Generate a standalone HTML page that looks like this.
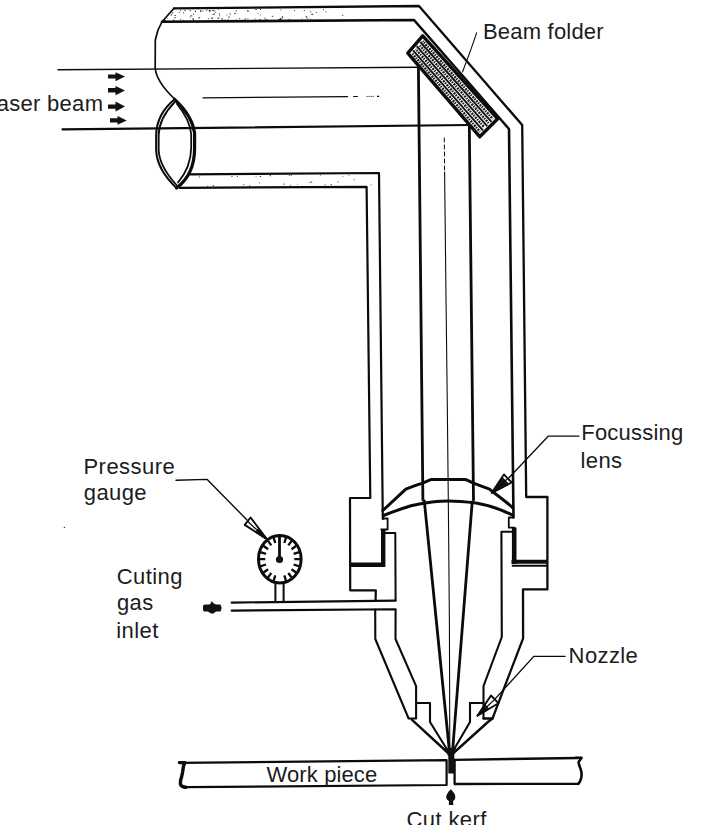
<!DOCTYPE html>
<html><head><meta charset="utf-8"><style>
html,body{margin:0;padding:0;background:#fff;}
svg{display:block;}
text{font-family:"Liberation Sans",sans-serif;font-size:22px;fill:#1c1c1c;letter-spacing:0.4px;}
</style></head><body>
<svg width="704" height="825" viewBox="0 0 704 825">
<g fill="#333" stroke="none"><rect x="174.5" y="15.0" width="1.3" height="1.0"/><rect x="235.8" y="19.6" width="1.0" height="1.0"/><rect x="205.8" y="10.2" width="1.0" height="0.8"/><rect x="164.0" y="20.5" width="1.0" height="1.2"/><rect x="190.5" y="15.3" width="1.6" height="1.0"/><rect x="257.7" y="12.7" width="0.8" height="1.0"/><rect x="227.3" y="19.7" width="0.8" height="0.8"/><rect x="342.3" y="14.8" width="1.0" height="1.2"/><rect x="194.8" y="10.8" width="1.3" height="1.2"/><rect x="167.4" y="18.3" width="0.8" height="0.8"/><rect x="183.0" y="12.4" width="1.0" height="1.0"/><rect x="280.4" y="9.5" width="1.0" height="0.8"/><rect x="247.3" y="18.1" width="1.0" height="0.8"/><rect x="219.1" y="15.3" width="0.8" height="1.0"/><rect x="258.9" y="19.2" width="1.6" height="1.0"/><rect x="221.2" y="18.2" width="1.0" height="1.0"/><rect x="172.9" y="19.6" width="1.3" height="1.0"/><rect x="209.0" y="10.4" width="1.6" height="1.2"/><rect x="211.2" y="17.8" width="1.6" height="1.0"/><rect x="229.6" y="13.4" width="1.0" height="1.2"/><rect x="184.5" y="10.4" width="1.0" height="0.8"/><rect x="224.6" y="19.5" width="1.0" height="1.0"/><rect x="309.8" y="18.8" width="1.0" height="0.8"/><rect x="208.8" y="10.0" width="1.6" height="1.2"/><rect x="247.4" y="10.7" width="1.6" height="0.8"/><rect x="280.0" y="18.6" width="1.6" height="1.0"/><rect x="282.1" y="17.2" width="0.8" height="1.2"/><rect x="170.7" y="14.4" width="1.0" height="1.2"/><rect x="211.8" y="17.5" width="1.0" height="1.0"/><rect x="164.3" y="20.2" width="1.6" height="1.2"/><rect x="305.7" y="16.2" width="1.3" height="1.2"/><rect x="260.0" y="8.8" width="1.0" height="1.2"/><rect x="171.7" y="12.4" width="1.6" height="1.0"/><rect x="227.5" y="19.2" width="1.0" height="1.0"/><rect x="278.2" y="19.0" width="1.6" height="1.2"/><rect x="182.4" y="19.9" width="1.3" height="0.8"/><rect x="213.7" y="13.5" width="1.3" height="1.0"/><rect x="288.5" y="19.3" width="1.6" height="1.2"/><rect x="202.4" y="11.0" width="0.8" height="0.8"/><rect x="180.0" y="18.9" width="0.8" height="1.0"/><rect x="310.2" y="11.4" width="1.0" height="1.0"/><rect x="226.4" y="14.7" width="0.8" height="0.8"/><rect x="170.9" y="14.3" width="0.8" height="0.8"/><rect x="189.9" y="16.7" width="1.0" height="0.8"/><rect x="192.4" y="18.4" width="1.6" height="1.0"/><rect x="221.6" y="18.9" width="1.6" height="0.8"/><rect x="279.7" y="19.0" width="1.3" height="1.0"/><rect x="265.9" y="19.5" width="1.0" height="1.2"/><rect x="260.0" y="14.6" width="0.8" height="0.8"/><rect x="264.5" y="19.2" width="1.0" height="1.0"/><rect x="255.4" y="9.0" width="1.3" height="1.0"/><rect x="303.8" y="10.1" width="1.0" height="1.0"/><rect x="271.8" y="15.8" width="1.3" height="1.0"/><rect x="215.3" y="11.8" width="0.8" height="1.0"/><rect x="294.0" y="10.0" width="0.8" height="1.2"/><rect x="218.9" y="13.3" width="1.0" height="1.2"/><rect x="198.5" y="17.2" width="1.6" height="1.2"/><rect x="235.7" y="10.2" width="1.0" height="1.2"/><rect x="247.2" y="10.2" width="0.8" height="1.2"/><rect x="228.1" y="16.6" width="1.6" height="1.0"/><rect x="184.6" y="9.7" width="1.0" height="0.8"/><rect x="212.6" y="14.0" width="1.0" height="1.0"/><rect x="234.2" y="12.9" width="1.6" height="1.0"/><rect x="266.1" y="19.5" width="1.6" height="1.2"/><rect x="180.3" y="9.8" width="0.8" height="1.2"/><rect x="217.9" y="9.4" width="0.8" height="0.8"/><rect x="211.9" y="10.0" width="1.6" height="0.8"/><rect x="207.8" y="18.3" width="1.3" height="0.8"/><rect x="244.5" y="18.5" width="1.3" height="1.2"/><rect x="311.4" y="13.8" width="1.6" height="1.2"/><rect x="201.5" y="10.4" width="0.8" height="0.8"/><rect x="174.3" y="17.1" width="1.3" height="1.0"/><rect x="199.9" y="11.0" width="1.0" height="1.2"/><rect x="164.2" y="20.3" width="1.0" height="0.8"/><rect x="193.2" y="13.6" width="0.8" height="1.2"/><rect x="239.2" y="18.1" width="1.0" height="1.0"/><rect x="254.8" y="18.5" width="0.8" height="1.0"/><rect x="192.9" y="19.0" width="1.0" height="1.2"/><rect x="315.8" y="11.8" width="1.0" height="1.0"/><rect x="264.4" y="17.6" width="1.3" height="0.8"/><rect x="213.5" y="10.2" width="1.3" height="1.2"/><rect x="217.6" y="17.7" width="1.6" height="1.2"/><rect x="323.1" y="9.0" width="0.8" height="1.2"/><rect x="306.6" y="17.7" width="1.3" height="0.8"/><rect x="189.7" y="10.2" width="1.3" height="1.0"/><rect x="301.7" y="18.7" width="1.0" height="0.8"/><rect x="325.6" y="11.1" width="0.8" height="1.2"/><rect x="281.8" y="16.3" width="1.3" height="1.2"/><rect x="178.8" y="11.9" width="1.3" height="0.8"/><rect x="200.1" y="10.1" width="1.0" height="0.8"/><rect x="279.8" y="18.2" width="1.6" height="0.8"/><rect x="206.8" y="9.5" width="0.8" height="0.8"/><rect x="237.1" y="176.0" width="0.8" height="1.0"/><rect x="207.1" y="185.8" width="1.0" height="0.8"/><rect x="283.4" y="183.6" width="1.3" height="1.0"/><rect x="255.7" y="175.9" width="0.8" height="0.8"/><rect x="231.3" y="176.2" width="1.3" height="0.8"/><rect x="212.7" y="185.2" width="1.3" height="1.0"/><rect x="259.8" y="176.0" width="1.3" height="1.0"/><rect x="249.2" y="185.3" width="1.0" height="1.0"/><rect x="337.5" y="181.5" width="1.0" height="1.0"/><rect x="290.3" y="184.9" width="0.8" height="1.0"/><rect x="310.9" y="181.5" width="1.3" height="1.0"/><rect x="319.8" y="174.8" width="1.0" height="0.8"/><rect x="297.3" y="183.8" width="0.8" height="0.8"/><rect x="348.5" y="174.8" width="0.8" height="1.0"/><rect x="288.9" y="175.2" width="1.0" height="0.8"/><rect x="269.7" y="175.2" width="1.3" height="1.0"/><rect x="259.3" y="182.4" width="0.8" height="1.0"/><rect x="243.3" y="184.2" width="1.0" height="1.0"/><rect x="330.6" y="184.2" width="1.3" height="1.0"/><rect x="370.8" y="184.4" width="0.8" height="0.8"/><rect x="290.7" y="175.1" width="1.0" height="0.8"/><rect x="353.7" y="179.2" width="1.0" height="1.0"/><rect x="309.5" y="181.9" width="1.0" height="1.0"/><rect x="198.8" y="176.5" width="1.0" height="1.0"/><rect x="324.7" y="184.4" width="1.0" height="1.0"/><rect x="342.5" y="176.0" width="0.8" height="0.8"/></g>
<g fill="none" stroke="#0b0b0b" stroke-linecap="round" stroke-linejoin="round">
<!-- top arm: outer top line + diagonal + right outer wall + nozzle right outer -->
<path d="M174,8.3 L419,6 L522.2,125 L526.2,497 L547.4,497 L547.4,589.4 L523,589.4 L523.1,638.3 L492.5,718.5 L483.5,718.5" stroke-width="2.3"/>
<!-- top arm inner line + diagonal + right inner wall -->
<path d="M162,21.8 L414,20 L509,129 L513.5,517.5" stroke-width="2.6"/>
<!-- left end cap curve -->
<path d="M174,8.3 L162,21.8 L158,30 L155.3,40 L155.2,68 C156,78 162,87 174.6,99" stroke-width="1.7"/>
<!-- horizontal arm bottom: inner (173) and outer (187) -->
<path d="M189.5,174.3 L379,173 L382.8,519" stroke-width="2.2"/>
<path d="M179.5,187.8 L366.6,186.8 L370.3,498 L350,498 L350.2,590.3 L375.8,590.3 L375.6,600.6" stroke-width="2.2"/>

<!-- laser beam lines -->
<path d="M58,69.8 L418.5,67.2" stroke-width="1.4"/>
<path d="M203,97.8 L347.5,96.6" stroke-width="1.3"/>
<path d="M353.2,96.5 L357.9,96.5 M377,96.4 L379.2,96.4" stroke-width="1.2" stroke-linecap="butt"/>
<path d="M366.6,96.4 L374,96.4" stroke-width="1" stroke-dasharray="1 1" stroke-linecap="butt"/>
<path d="M62.5,129.4 L469.3,125" stroke-width="2.2"/>

<!-- vertical beam lines above lens -->
<path d="M418.4,67 L422.9,500" stroke-width="2.8"/>
<path d="M469.3,125 L473.5,500" stroke-width="2.8"/>
<!-- converging beams below lens -->
<path d="M424.3,501 L449.5,752" stroke-width="2.8"/>
<path d="M472.2,502 L452.5,752" stroke-width="2.8"/>
<!-- centre line -->
<path d="M444.3,138 L444.6,172" stroke-width="1" stroke-dasharray="4 3"/>
<path d="M444.6,172 L446.1,305 L447.3,405 L448.3,500 L449.4,620 L449.8,752" stroke-width="1.1"/>

<!-- left lens (top arm) -->
<path d="M174.6,99.3 C164,108 156.5,120 156.2,135 L156.2,150 C156.5,163 165,177 176.5,188" stroke-width="2.1"/>
<path d="M174.8,102 C166,111 159,122 158.7,135 L158.7,150 C159,162 166.5,174 176.5,185" stroke-width="1.8"/>
<path d="M174.6,99.3 C184,108 192.5,118 194.6,133 L194.6,148 C194.6,165 190,178 176.5,188" stroke-width="3.2"/>
<path d="M177,104 C183.5,112 190,122 191.2,134 L191.2,148 C191,162 186,173 178,182.5" stroke-width="1.8"/>

<!-- beam folder -->
<g>
<path d="M422.7,35.9 L497.7,118.75 L479.7,136.7 L407.8,53.1 Z" fill="#fff" stroke-width="3.4"/>
<path d="M420.3,42.0 L491.5,121.8" stroke="#111" stroke-width="1.9" stroke-linecap="butt"/>
<path d="M416.7,46.2 L487.2,126.1" stroke="#111" stroke-width="1.9" stroke-linecap="butt"/>
<path d="M413.1,50.3 L482.9,130.4" stroke="#111" stroke-width="1.9" stroke-linecap="butt"/>
<path d="M422.7,41.0 L492.8,119.0" stroke="#1a1a1a" stroke-width="2.4" stroke-dasharray="2 0.9 1.4 1.1" stroke-dashoffset="1.0" stroke-linecap="butt"/>
<path d="M419.3,44.9 L488.6,123.1" stroke="#1a1a1a" stroke-width="2.4" stroke-dasharray="2 0.9 1.4 1.1" stroke-dashoffset="2.2" stroke-linecap="butt"/>
<path d="M415.7,49.1 L484.3,127.4" stroke="#1a1a1a" stroke-width="2.4" stroke-dasharray="2 0.9 1.4 1.1" stroke-dashoffset="1.5" stroke-linecap="butt"/>
<path d="M412.1,53.2 L480.0,131.7" stroke="#1a1a1a" stroke-width="2.4" stroke-dasharray="2 0.9 1.4 1.1" stroke-dashoffset="2.4" stroke-linecap="butt"/>
</g>
<!-- beam folder leader -->
<path d="M476.6,32.8 C472,47 467,60 462.5,71.9" stroke-width="1.1"/>

<!-- focusing lens -->
<path d="M382.8,510.5 L405.8,489.2 C412,486.6 417,485 422,483.4 L431.4,479.4 L465.5,479.4 L474,483.4 L489.5,489.2 L492.5,491.6 C499,496.5 506,501.5 512.8,507.8" stroke-width="3"/>
<path d="M383.6,515.5 C392,512 402,508.6 411,505.8 C418,504 424,503 432,502 C440,501.2 444,501 448.4,501 C456,501 466,501.8 476,503 C488,505 500,509 512.5,515" stroke-width="3"/>
<!-- focusing lens leader -->
<path d="M578.9,436.2 L548.2,436.2 L507.8,479" stroke-width="1.3"/>
<path d="M491.8,492.8 L503.9,474.4 L511.6,482.5 Z" fill="#fff" stroke-width="1.9"/><path d="M491.8,492.8 L502.1,477.2 L508.6,484.0 Z" fill="#111" stroke-width="1"/><path d="M491.8,492.8 L507.8,478.4" stroke-width="1.3"/>

<!-- left housing details -->
<path d="M350,564.7 L385,564.7" stroke-width="4.6" stroke-linecap="butt"/>
<path d="M383.2,529.5 L383.2,567" stroke-width="4.4" stroke-linecap="butt"/>
<path d="M381.2,529.5 L387.6,529.5 L387.6,518.5 L382.8,518.5" stroke-width="1.8"/>
<path d="M385,533 L395.3,533 L395.6,600.6" stroke-width="2"/>
<!-- pipe -->
<path d="M231.6,602.6 L395.6,600.6" stroke-width="2.1"/>
<path d="M231.6,610.6 L395.6,609.3 L395.5,639 L416.1,686.1 L416.1,718.5 L408.6,718.5 L375.3,639 L375.2,609.3" stroke-width="2.1"/>
<!-- nozzle bore left -->
<path d="M416.1,703 L430,703 L430,722 L448,751" stroke-width="2.1"/>
<path d="M411.8,719.7 L447,752" stroke-width="2.4"/>

<!-- right housing details -->
<path d="M511.5,561.8 L548,561.8" stroke-width="4" stroke-linecap="butt"/>
<path d="M511.8,565.8 L547.6,565.8" stroke-width="2" stroke-linecap="butt"/>
<path d="M514.2,527.5 L514.2,564" stroke-width="4.6" stroke-linecap="butt"/>
<path d="M513.2,517.5 L508.8,517.5 L508.8,527.7 L514.4,527.7" stroke-width="1.8"/>
<path d="M511.6,531.7 L501.4,531.7 L501.8,637 L483.5,686.1 L483.5,718.5" stroke-width="2.1"/>
<path d="M470,703 L483.5,703" stroke-width="2.1"/>
<path d="M470,703 L470,722 L453,751" stroke-width="2.1"/>
<path d="M492.5,718.5 L488.5,721.5 L453.5,753" stroke-width="2.4"/>
<!-- nozzle leader -->
<path d="M565,656.4 L533.8,656.4 L494.7,699.4" stroke-width="1.4"/>
<path d="M477.4,715.7 L491.0,695.5 L498.4,703.2 Z" fill="#fff" stroke-width="1.9"/><path d="M477.4,715.7 L484.9,704.6 L488.9,708.8 Z" fill="#111" stroke-width="1"/><path d="M477.4,715.7 L494.7,699.4" stroke-width="1.3"/>

<!-- work piece -->
<path d="M180,762.8 L446.6,760.2 L446.6,785 L186,787.2" stroke-width="2.2"/>
<path d="M454.6,759.8 L578,758" stroke-width="2.3"/>
<path d="M454.6,759.8 L454.6,784 L578.3,783.8" stroke-width="2.3"/>
<path d="M179.4,762.6 L185,762.6 L183.5,766 L182.6,772 L181.6,777 L180.6,780 L180.4,784 C181,786 183,787.2 186,787.2" stroke-width="3.4"/>
<path d="M576,757.8 L581.6,757.8 L578.6,762 C578.6,766 581.6,769 581.6,774 C581.6,779 580,782 578.3,783.8" stroke-width="2.6"/>
<!-- beam in kerf -->
<path d="M448.3,752 L454.3,752 L454.3,773.5 L448.3,773.5 Z" fill="#111" stroke="none"/>
<path d="M444.5,748 L456,748 L453.5,756 L448,756 Z" fill="#111" stroke="none"/>
<!-- cut kerf arrow -->
<path d="M450.8,789.3 C448,792 446,795 446.2,797.5 C446.5,800 448.5,800.6 449,801 L448.8,805 L453.4,805 L453,801 C454,800.5 455.3,799.5 455.3,797 C455.3,794 453.5,792 450.8,789.3 Z" fill="#111" stroke="none"/>

<!-- pressure gauge -->
<path d="M176,480.2 L207.2,479.4 L247,520" stroke-width="1.4"/>
<path d="M266.8,539.1 L250.6,517.5 L244.7,524.9 Z" fill="#fff" stroke-width="1.9"/><path d="M266.8,539.1 L258.7,528.3 L255.8,532.0 Z" fill="#111" stroke-width="1"/><path d="M266.8,539.1 L247.6,521.2" stroke-width="1.3"/>
<ellipse cx="279.8" cy="559.2" rx="21.3" ry="23.8" stroke-width="3"/>
<path d="M275.4,583 L275.4,601.5 M283.6,583 L283.6,601.5" stroke-width="2"/>
<path d="M279.5,559 L279.5,537" stroke-width="2.8"/>
<circle cx="279.5" cy="559.5" r="3.6" fill="#111" stroke="none"/>
<path d="M286.1,537.3 L284.3,543.0 M291.8,540.6 L288.3,545.4 M296.4,545.7 L291.5,549.2 M299.3,552.1 L293.6,553.9 M300.3,559.2 L294.3,559.2 M299.3,566.3 L293.6,564.5 M296.4,572.7 L291.5,569.2 M291.8,577.8 L288.3,573.0 M286.1,581.1 L284.3,575.4 M273.5,581.1 L275.3,575.4 M267.8,577.8 L271.3,573.0 M263.2,572.7 L268.1,569.2 M260.3,566.3 L266.0,564.5 M259.3,559.2 L265.3,559.2 M260.3,552.1 L266.0,553.9 M263.2,545.7 L268.1,549.2 M267.8,540.6 L271.3,545.4 M273.5,537.3 L275.3,543.0" stroke-width="2.3" stroke-linecap="butt"/>

<!-- gas inlet arrow -->
<path d="M203,605.6 L205,604.6 L209.5,604.6 L211,603 L211.5,601 L213.5,603.3 L216,604.6 L220.5,604.6 L221.7,608 L220.5,611.4 L216,611.4 L213,613.7 L210,613 L208,611.4 L204,611.4 L203,610 Z" fill="#111" stroke="none"/>

<!-- laser arrows -->
<g fill="#111" stroke="none">
<path d="M108,74.6 L115.5,74.6 L115.5,72.3 L125,76.6 L115.5,81.2 L115.5,78.6 L108,78.6 Z"/>
<path d="M108,88 L115.5,88 L115.5,86 L125,90.5 L115.5,95.3 L115.5,92.4 L108,92.4 Z"/>
<path d="M108,104.4 L115.5,104.4 L115.5,101.6 L125,106.6 L115.5,111.6 L115.5,108.8 L108,108.8 Z"/>
<path d="M110,118.3 L117.5,118.3 L117.5,116 L126.8,120.4 L117.5,124.7 L117.5,122.6 L110,122.6 Z"/>
</g>
</g>

<circle cx="64.4" cy="527.4" r="0.7" fill="#333"/>
<text x="-15.9" y="110.9" style="letter-spacing:0.3px">Laser beam</text>
<text x="483" y="38.7" style="letter-spacing:0.2px">Beam folder</text>
<text x="581.3" y="439.5" style="letter-spacing:0.2px">Focussing</text>
<text x="580.5" y="467.5">lens</text>
<text x="83.5" y="473.5" style="letter-spacing:0.45px">Pressure</text>
<text x="83.8" y="500.3">gauge</text>
<text x="116.8" y="584.4">Cuting</text>
<text x="116.9" y="610.2">gas</text>
<text x="116.3" y="637.9">inlet</text>
<text x="568.6" y="663.1">Nozzle</text>
<text x="266.5" y="782" style="letter-spacing:0.12px">Work piece</text>
<text x="406.5" y="826.5">Cut kerf</text>
</svg>
</body></html>
